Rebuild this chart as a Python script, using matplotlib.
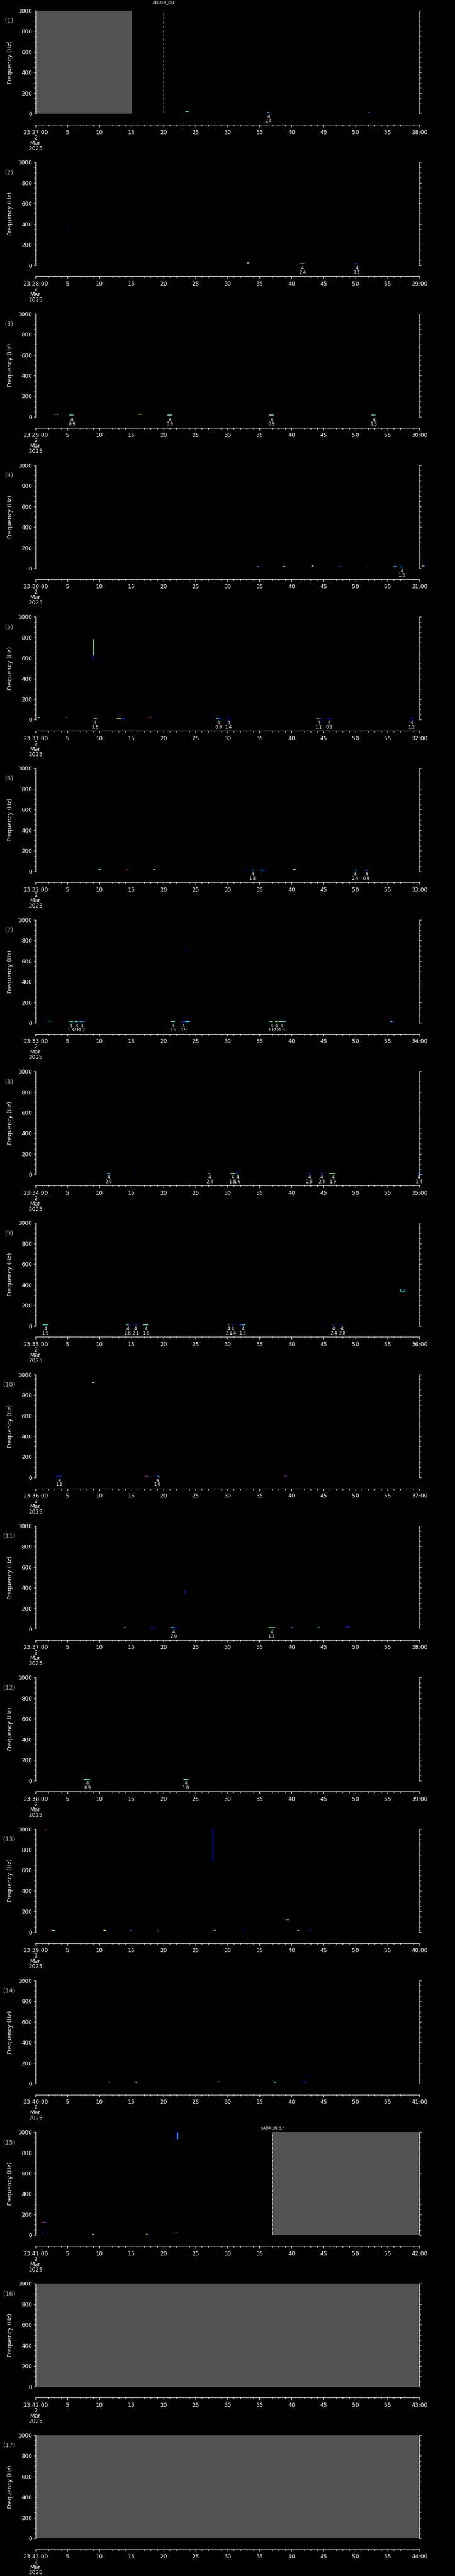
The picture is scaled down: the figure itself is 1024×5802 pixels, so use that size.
import matplotlib
matplotlib.use("Agg")
import matplotlib.pyplot as plt
from matplotlib import transforms
import numpy as np

# ---------------- data ----------------
start_minutes = list(range(27, 44))          # 23:27 ... 23:43, one panel per minute
freq_ticks = [0, 200, 400, 600, 800, 1000]
time_ticks = list(range(0, 61, 5))
date_lines = ["2", "Mar", "2025"]

# horizontal spectral traces per panel: (t_start s, t_end s, freq Hz, colour start, colour end) in jet scale
p01 = [(23.5, 23.95, 21, 0.45, 0.35), (36.25, 36.6, 13, 0.3, 0.2), (52.0, 52.3, 13, 0.25, 0.15)]
p02 = [(5.07, 5.3, 345, 0.1, 0.1), (33.0, 33.4, 23, 0.6, 0.4), (41.4, 42.0, 18, 0.85, 0.25),
       (49.95, 50.5, 14, 0.35, 0.15)]
p03 = [(3.0, 3.6, 25, 0.6, 0.55), (5.3, 6.0, 17, 0.45, 0.35), (16.1, 16.6, 25, 0.65, 0.6),
       (20.6, 21.4, 17, 0.5, 0.4), (36.5, 37.2, 17, 0.55, 0.45), (52.5, 53.1, 17, 0.4, 0.35)]
p04 = [(34.6, 35.0, 20, 0.35, 0.15), (38.6, 39.1, 18, 0.65, 0.3), (43.1, 43.5, 22, 0.65, 0.35),
       (47.5, 47.8, 20, 0.3, 0.15), (51.7, 51.9, 8, 0.1, 0.1), (56.0, 56.6, 20, 0.35, 0.15),
       (57.0, 57.5, 12, 0.35, 0.3), (60.4, 60.8, 22, 0.4, 0.25)]
p05 = [(0.42, 0.79, 23, 0.5, 0.25), (4.7, 5.0, 25, 0.9, 0.2), (9.0, 9.56, 14, 0.85, 0.4),
       (12.7, 14.0, 10, 0.6, 0.15), (17.6, 18.2, 22, 0.92, 0.15), (28.2, 29.0, 12, 0.4, 0.15),
       (29.9, 30.5, 12, 0.15, 0.15), (43.9, 44.7, 12, 0.5, 0.15), (45.6, 46.4, 12, 0.15, 0.15),
       (58.5, 59.1, 12, 0.15, 0.15)]
p06 = [(9.8, 10.2, 22, 0.35, 0.35), (14.2, 14.6, 22, 0.9, 0.15), (18.4, 18.7, 22, 0.65, 0.65),
       (32.6, 32.8, 16, 0.15, 0.15), (33.6, 34.1, 14, 0.15, 0.35), (35.1, 36.1, 12, 0.3, 0.12),
       (40.2, 40.7, 20, 0.65, 0.35), (49.7, 50.2, 14, 0.2, 0.35), (51.3, 52.0, 14, 0.15, 0.3)]
p07 = [(2.1, 2.4, 18, 0.35, 0.35), (5.3, 5.8, 12, 0.3, 0.45), (6.1, 6.7, 12, 0.4, 0.3),
       (6.9, 7.8, 12, 0.3, 0.2), (21.1, 21.8, 12, 0.5, 0.35), (22.7, 24.1, 13, 0.15, 0.35),
       (23.55, 23.75, 700, 0.05, 0.05), (36.6, 37.1, 12, 0.5, 0.45), (37.4, 37.9, 12, 0.5, 0.35),
       (38.0, 39.1, 12, 0.5, 0.35), (55.4, 56.0, 12, 0.35, 0.2)]
p08 = [(11.1, 11.7, 12, 0.2, 0.35), (15.6, 15.8, 8, 0.12, 0.12), (27.0, 27.3, 12, 0.35, 0.35),
       (30.5, 31.2, 12, 0.5, 0.45), (31.3, 31.7, 12, 0.15, 0.15), (42.6, 42.9, 12, 0.15, 0.15),
       (44.5, 44.9, 12, 0.2, 0.15), (45.9, 46.9, 12, 0.55, 0.45), (59.7, 60.3, 12, 0.2, 0.15)]
p09 = [(1.1, 2.0, 12, 0.4, 0.35), (14.2, 14.6, 12, 0.35, 0.3), (15.4, 15.8, 12, 0.15, 0.15),
       (16.8, 17.6, 12, 0.4, 0.45), (29.9, 30.3, 15, 0.9, 0.45), (30.6, 31.0, 12, 0.15, 0.15),
       (31.9, 32.8, 12, 0.2, 0.35), (46.3, 46.7, 12, 0.15, 0.15), (47.7, 48.0, 12, 0.15, 0.15),
       (57.0, 57.7, 340, 0.35, 0.35)]
p10 = [(8.8, 9.2, 921, 0.55, 0.65), (3.2, 4.1, 12, 0.15, 0.15), (17.1, 17.8, 14, 0.9, 0.15),
       (18.8, 19.4, 12, 0.15, 0.3), (38.9, 39.4, 18, 0.9, 0.15)]
p11 = [(13.7, 14.1, 16, 0.9, 0.4), (18.0, 18.7, 6, 0.1, 0.1), (21.1, 22.1, 12, 0.35, 0.15),
       (36.4, 37.4, 12, 0.5, 0.45), (39.9, 40.3, 16, 0.3, 0.2), (44.1, 44.4, 12, 0.35, 0.35),
       (48.5, 49.0, 18, 0.15, 0.15)]
p12 = [(7.6, 8.5, 12, 0.45, 0.35), (23.1, 23.9, 12, 0.5, 0.35)]
p13 = [(1.5, 1.7, 990, 0.92, 0.92), (2.6, 3.1, 18, 0.65, 0.35), (10.6, 11.0, 18, 0.65, 0.6),
       (14.7, 15.1, 14, 0.35, 0.15), (19.0, 19.2, 12, 0.8, 0.75), (27.7, 28.2, 16, 0.9, 0.35),
       (32.2, 32.4, 18, 0.1, 0.1), (39.1, 39.6, 118, 0.85, 0.35), (40.9, 41.2, 18, 0.35, 0.35),
       (42.7, 43.0, 18, 0.15, 0.15)]
p14 = [(11.4, 11.7, 14, 0.9, 0.35), (15.6, 15.9, 14, 0.5, 0.35), (28.5, 28.8, 16, 0.75, 0.35),
       (37.3, 37.6, 14, 0.5, 0.35), (41.9, 42.2, 14, 0.15, 0.15)]
p15 = [(1.0, 1.6, 126, 0.9, 0.2), (1.0, 1.2, 22, 0.2, 0.3), (8.8, 9.1, 12, 0.35, 0.6),
       (17.2, 17.5, 12, 0.8, 0.65), (21.8, 22.2, 22, 0.9, 0.2)]
p16 = []
p17 = []
traces = [p01, p02, p03, p04, p05, p06, p07, p08, p09, p10, p11, p12, p13, p14, p15, p16, p17]

# vertical traces: (panel, time s, f_low, f_high, colour)
vertical_traces = [(5, 9.0, 620, 780, 0.5), (5, 8.95, 585, 625, 0.1), (5, 9.05, 778, 786, 0.2),
                   (9, 57.0, 340, 358, 0.35), (9, 57.7, 340, 358, 0.35),
                   (11, 23.4, 343, 382, 0.15), (13, 27.7, 690, 1000, 0.1),
                   (15, 22.0, 930, 996, 0.12), (15, 22.2, 930, 996, 0.3)]

# detection annotations ("4" over value): per panel (time s, value)
a01 = [(36.4, "2.4")]
a02 = [(41.7, "2.4"), (50.25, "1.1")]
a03 = [(5.67, "0.9"), (21.0, "0.9"), (36.9, "0.9"), (52.9, "1.3")]
a04 = [(57.3, "1.5")]
a05 = [(9.3, "2.6"), (28.6, "0.9"), (30.2, "1.4"), (44.3, "1.1"), (45.9, "0.9"), (58.8, "1.2")]
a06 = [(33.9, "1.8"), (49.9, "2.4"), (51.7, "0.9")]
a07 = [(5.5, "1.3"), (6.4, "2.8"), (7.3, "1.2"), (21.5, "1.6"), (23.1, "0.9"),
       (36.9, "1.6"), (37.6, "2.8"), (38.5, "1.6")]
a08 = [(11.4, "2.0"), (27.2, "2.4"), (30.8, "1.8"), (31.6, "1.6"), (42.8, "2.8"),
       (44.7, "2.4"), (46.5, "1.9"), (59.9, "2.4")]
a09 = [(1.6, "1.9"), (14.4, "2.8"), (15.6, "2.1"), (17.3, "1.8"), (30.2, "2.5"),
       (30.8, "2.4"), (32.4, "1.3"), (46.6, "2.4"), (47.9, "2.8")]
a10 = [(3.7, "1.1"), (19.1, "1.8")]
a11 = [(21.6, "2.0"), (36.9, "1.7")]
a12 = [(8.1, "0.9"), (23.5, "1.0")]
annotations = [a01, a02, a03, a04, a05, a06, a07, a08, a09, a10, a11, a12, [], [], [], [], []]
ann_count = "4"

# no-data (gray) spans: (panel, t_start, t_end)
gray_spans = [(1, 0, 15.05), (15, 37.0, 60), (16, 0, 60), (17, 0, 60)]
# mode markers: (panel, time, text, height above axes in px)
mode_marks = [(1, 20.0, "ADDET_ON", 18), (15, 37.0, "$ADRUN,0,*", 8)]

# ---------------- layout ----------------
W, H = 1024, 5802
NP = 17
CELL = H / NP
AX_L, AX_R = 80, 944
AX_T, AX_B = 24, 256.3
AX_H = AX_B - AX_T
TL = 281
TAX_H = 60

fig = plt.figure(figsize=(W / 100, H / 100), dpi=100, facecolor="black")
cmap = plt.get_cmap("jet")
GRAY = "#535353"
LW = 0.8

def fy(px):
    return 1 - px / H

for k in range(NP):
    top = k * CELL
    ax = fig.add_axes([AX_L / W, fy(top + AX_B), (AX_R - AX_L) / W, AX_H / H])
    ax.set_facecolor("black")
    ax.set_xlim(0, 60)
    ax.set_ylim(0, 1000)
    for s in ["top", "bottom"]:
        ax.spines[s].set_visible(False)
    for s in ["left", "right"]:
        ax.spines[s].set_color("white")
        ax.spines[s].set_linewidth(LW)
        ax.spines[s].set_zorder(5)
    ax.set_xticks([])
    ax.set_yticks(freq_ticks)
    ax.set_yticks(np.arange(0, 1001, 50), minor=True)
    ax.tick_params(axis="y", which="both", colors="white", direction="out",
                   left=True, right=True, labelleft=True, labelright=False, width=LW)
    ax.tick_params(axis="y", which="major", length=3, pad=2.5, labelsize=9)
    ax.tick_params(axis="y", which="minor", length=2)
    ax.text(-57 / 864, 0.5, "Frequency (Hz)", transform=ax.transAxes, rotation=90,
            ha="center", va="center", color="white", fontsize=9.3)
    ax.text(-59 / 864, (AX_B - 47) / AX_H, "(%d)" % (k + 1), transform=ax.transAxes,
            ha="center", va="center", color="#a8a8a8", fontsize=10)

    blend = transforms.blended_transform_factory(ax.transData, ax.transAxes)

    for (p, t0, t1) in gray_spans:
        if p == k + 1:
            ax.axvspan(t0, t1, color=GRAY, lw=0, zorder=1)

    for (t0, t1, f, c0, c1) in traces[k]:
        tm = (t0 + t1) / 2
        ax.plot([t0, tm], [f, f], color=cmap(c0), lw=1.3, solid_capstyle="butt",
                clip_on=False, zorder=3)
        ax.plot([tm, t1], [f, f], color=cmap(c1), lw=1.3, solid_capstyle="butt",
                clip_on=False, zorder=3)

    for (p, t, f0, f1, c) in vertical_traces:
        if p == k + 1:
            ax.plot([t, t], [f0, f1], color=cmap(c), lw=1.2, solid_capstyle="butt", zorder=3)

    for (t, v) in annotations[k]:
        ax.text(t, -6.8 / AX_H, ann_count, transform=blend, ha="center", va="center",
                color="white", fontsize=7)
        ax.text(t, -16.3 / AX_H, v, transform=blend, ha="center", va="center",
                color="white", fontsize=7)

    for (p, t, txt, up) in mode_marks:
        if p == k + 1:
            ax.axvline(t, ymin=0.01, ymax=0.995, color="white", lw=LW,
                       ls=(0, (5, 3.6)), zorder=4)
            ax.text(t, 1 + up / AX_H, txt, transform=blend, ha="center", va="center",
                    color="white", fontsize=6.5, clip_on=False)

    # separate time axis below the panel
    tax = fig.add_axes([AX_L / W, fy(top + TL + TAX_H), (AX_R - AX_L) / W, TAX_H / H])
    tax.set_facecolor("none")
    tax.set_xlim(0, 60)
    tax.set_ylim(0, 1)
    for s in ["left", "right", "bottom"]:
        tax.spines[s].set_visible(False)
    tax.spines["top"].set_color("white")
    tax.spines["top"].set_linewidth(LW)
    tax.set_yticks([])
    tax.set_xticks(time_ticks)
    tax.set_xticks(range(0, 61), minor=True)
    tax.tick_params(axis="x", which="both", direction="in", colors="white", top=True,
                    bottom=False, labeltop=False, labelbottom=False, width=LW)
    tax.tick_params(axis="x", which="major", length=3.8)
    tax.tick_params(axis="x", which="minor", length=2.2)
    tb = transforms.blended_transform_factory(tax.transData, tax.transAxes)
    m = start_minutes[k]
    for t in time_ticks:
        if t == 0:
            lbl = "23:%02d:00" % m
        elif t == 60:
            lbl = "%02d:00" % (m + 1)
        else:
            lbl = str(t)
        tax.text(t, 1 - 17 / TAX_H, lbl, transform=tb, ha="center", va="center",
                 color="white", fontsize=9)
    for i, dl in enumerate(date_lines):
        tax.text(time_ticks[0], 1 - (29 + 12 * i) / TAX_H, dl, transform=tb, ha="center",
                 va="center", color="white", fontsize=9)

fig.savefig("out.png", dpi=100, facecolor="black")
